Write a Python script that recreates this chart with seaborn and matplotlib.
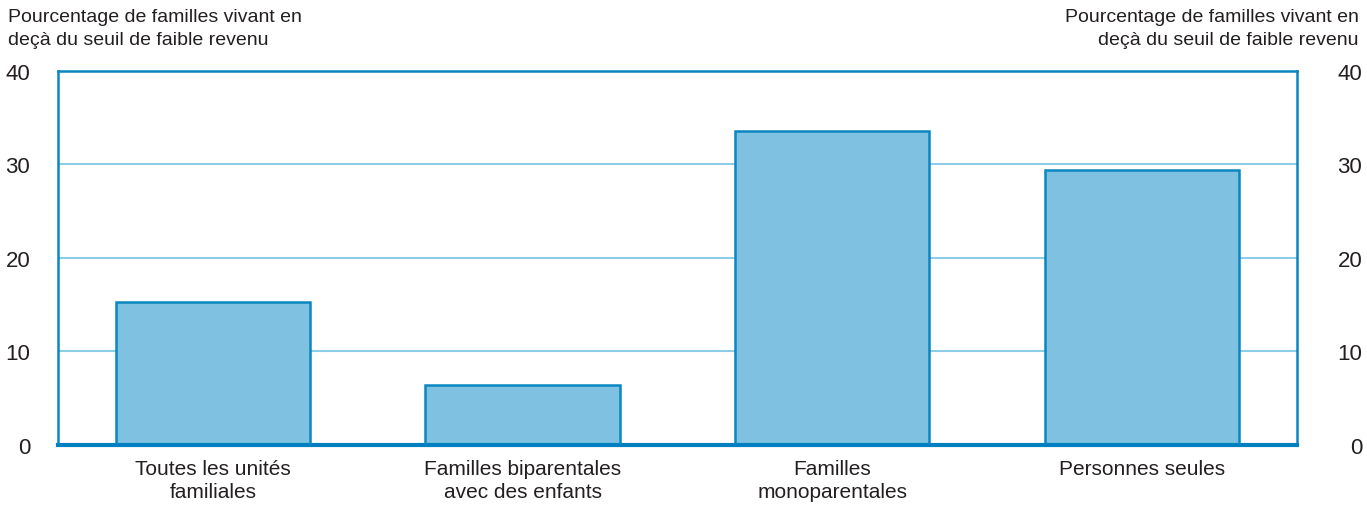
import matplotlib
matplotlib.use("Agg")
import matplotlib.pyplot as plt
import seaborn as sns
import pandas as pd

categories = ["Toutes les unités\nfamiliales", "Familles biparentales\navec des enfants",
              "Familles\nmonoparentales", "Personnes seules"]
values = [15.3, 6.4, 33.6, 29.4]
yticks = [0, 10, 20, 30, 40]
ylabel = "Pourcentage de familles vivant en\ndeçà du seuil de faible revenu"

df = pd.DataFrame({"cat": categories, "val": values})

sns.set_style("white")
plt.rcParams["font.family"] = ["Liberation Sans", "DejaVu Sans"]

fill = "#7fc1e0"
edge = "#0a86c0"
grid = "#8ecde8"
txt = "#231f20"

fig = plt.figure(figsize=(13.67, 5.06), dpi=100)
ax = fig.add_axes([0.0424, 0.1186, 0.9064, 0.7391])

sns.barplot(data=df, x="cat", y="val", color=fill, edgecolor=edge, linewidth=1.8,
            width=0.627, saturation=1, ax=ax, zorder=3)
ax.set_xlim(-0.5, 3.5)
ax.set_ylim(0, 40)
ax.set_yticks(yticks)
ax.set_xlabel("")
ax.set_ylabel("")
for y in yticks[1:-1]:
    ax.axhline(y, color=grid, lw=1.5, zorder=1)

for s in ["left", "right", "top"]:
    ax.spines[s].set_color(edge)
    ax.spines[s].set_linewidth(1.8)
ax.spines["bottom"].set_color("#0080c0")
ax.spines["bottom"].set_linewidth(3)
ax.spines["bottom"].set_zorder(5)

ax.tick_params(axis="y", length=0, pad=20, labelsize=16, colors=txt)
ax.tick_params(axis="x", length=0, pad=10, labelsize=15, colors=txt)
for lab in ax.get_xticklabels():
    lab.set_linespacing(1.3)

ax2 = ax.twinx()
ax2.set_ylim(0, 40)
ax2.set_yticks(yticks)
ax2.tick_params(axis="y", length=0, pad=47, labelsize=16, colors=txt)
for lab in ax2.get_yticklabels():
    lab.set_horizontalalignment("right")
for s in ax2.spines.values():
    s.set_visible(False)

fig.text(0.006, 0.982, ylabel, ha="left", va="top", fontsize=14, color=txt, linespacing=1.45)
fig.text(0.994, 0.982, ylabel, ha="right", va="top", fontsize=14, color=txt,
         linespacing=1.45, multialignment="right")

fig.savefig("out.png", dpi=100)
